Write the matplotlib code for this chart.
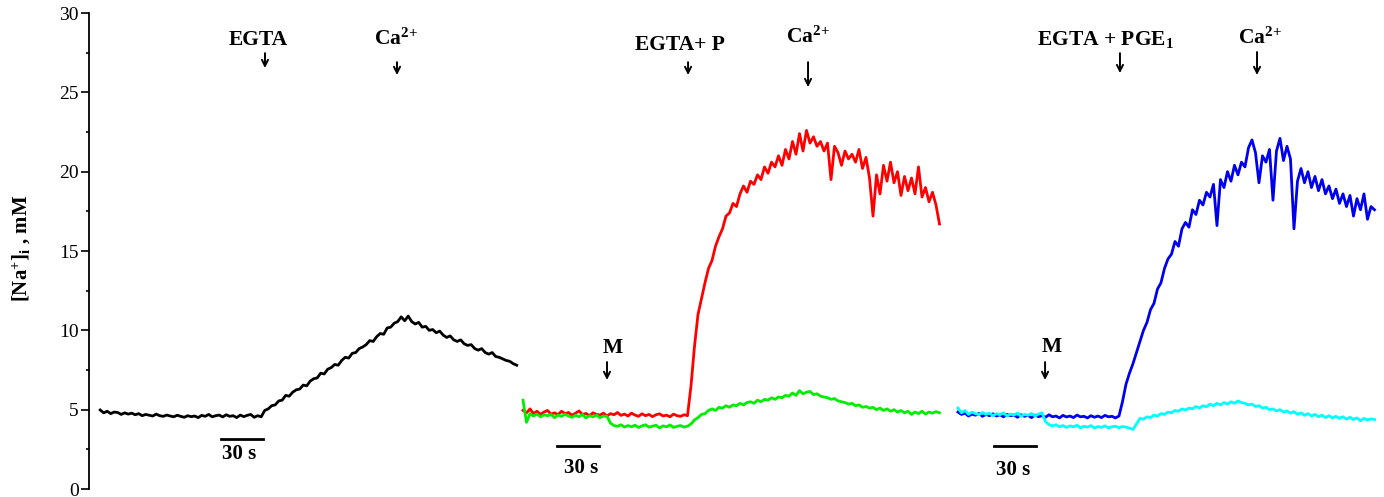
import numpy as np
import matplotlib
matplotlib.use("Agg")
import matplotlib.pyplot as plt

plt.rcParams['font.family'] = ['Liberation Serif', 'DejaVu Serif']
plt.rcParams['mathtext.fontset'] = 'custom'
plt.rcParams['mathtext.rm'] = 'Liberation Serif:bold'
plt.rcParams['mathtext.it'] = 'Liberation Serif:bold'
plt.rcParams['mathtext.bf'] = 'Liberation Serif:bold'

# sampling of the recordings (s)
DT = 2.5
T0_CONTROL = 8.0
T0_P = 310.0
T0_PGE = 620.7

# [Na+]i, mM -- control (EGTA, then Ca2+)
na_control = [
    4.98, 4.80, 4.90, 4.75, 4.85, 4.82, 4.70, 4.80, 4.72, 4.78,
    4.68, 4.75, 4.62, 4.70, 4.65, 4.60, 4.72, 4.62, 4.58, 4.66,
    4.60, 4.55, 4.65, 4.58, 4.52, 4.62, 4.56, 4.60, 4.50, 4.64,
    4.58, 4.70, 4.55, 4.62, 4.66, 4.54, 4.68, 4.58, 4.62, 4.50,
    4.66, 4.56, 4.64, 4.70, 4.52, 4.62, 4.55,
    4.95, 5.05, 5.25, 5.30, 5.55, 5.60, 5.90, 5.85, 6.10, 6.25,
    6.30, 6.55, 6.50, 6.80, 6.95, 7.00, 7.30, 7.25, 7.55, 7.65,
    7.85, 7.80, 8.10, 8.30, 8.25, 8.55, 8.60, 8.85, 8.95, 9.10,
    9.35, 9.30, 9.60, 9.80, 9.75, 10.15, 10.20, 10.45, 10.55, 10.85,
    10.60, 10.90, 10.55, 10.40, 10.50, 10.20, 10.25, 10.00, 10.05,
    9.85, 9.95, 9.70, 9.55, 9.65, 9.40, 9.30, 9.40, 9.15, 9.05,
    9.10, 8.85, 8.75, 8.85, 8.60, 8.50, 8.60, 8.35, 8.30, 8.20,
    8.10, 8.05, 7.90, 7.80,
]

# EGTA + P (red) and with M (green)
na_p = [
    4.95, 4.80, 5.05, 4.75, 4.90, 4.70, 4.85, 4.95, 4.72, 4.80,
    4.68, 4.90, 4.75, 4.82, 4.65, 4.78, 4.92, 4.70, 4.76, 4.62,
    4.80, 4.70, 4.66, 4.78, 4.60, 4.75, 4.68, 4.82, 4.64, 4.72,
    4.60, 4.78, 4.66, 4.58, 4.74, 4.62, 4.70, 4.56, 4.68, 4.74,
    4.60, 4.66, 4.55, 4.72, 4.62, 4.58, 4.68, 4.62,
    6.5, 9.0, 11.0, 12.0, 13.0, 13.9, 14.4, 15.3, 15.9, 16.4,
    17.2, 17.4, 18.0, 17.8, 18.6, 19.1, 18.7, 19.4, 19.2, 19.8,
    19.5, 20.3, 19.9, 20.6, 20.3, 21.0, 20.4, 21.4, 20.8, 21.9,
    21.1, 22.4, 21.3, 22.6, 21.8, 22.2, 21.6, 21.9, 21.3, 21.8,
    19.5, 21.6, 21.2, 20.4, 21.3, 20.8, 21.1, 20.6, 21.4, 20.2,
    20.9, 19.6, 17.2, 19.8, 18.6, 20.4, 19.4, 20.6, 19.3, 20.0,
    18.5, 19.7, 18.8, 19.6, 18.6, 20.3, 18.4, 19.0, 18.1, 18.7,
    17.9, 16.7,
]
na_p_m = [
    5.60, 4.20, 4.75, 4.60, 4.72, 4.55, 4.68, 4.62, 4.70, 4.50,
    4.66, 4.58, 4.72, 4.60, 4.52, 4.65, 4.56, 4.70, 4.48, 4.62,
    4.55, 4.66, 4.50, 4.60, 4.58,
    4.15, 4.00, 3.95, 4.05, 3.90, 4.00, 3.92, 4.02, 3.88, 3.98,
    4.05, 3.90, 3.96, 4.02, 3.85, 3.98, 3.92, 4.04, 3.88, 3.95,
    4.00, 3.90, 3.96,
    4.10, 4.35, 4.50, 4.70, 4.75, 4.95, 5.05, 4.95, 5.15, 5.10,
    5.25, 5.15, 5.30, 5.25, 5.40, 5.30, 5.45, 5.50, 5.40, 5.60,
    5.50, 5.65, 5.60, 5.75, 5.65, 5.80, 5.75, 5.90, 5.85, 6.05,
    5.90, 6.20, 6.00, 6.10, 6.15, 5.95, 6.00, 5.85, 5.80, 5.75,
    5.65, 5.70, 5.55, 5.50, 5.45, 5.35, 5.40, 5.25, 5.30, 5.15,
    5.20, 5.10, 5.15, 5.00, 5.10, 4.95, 5.05, 4.90, 5.00, 4.85,
    4.95, 4.80, 4.90, 4.70, 4.85, 4.75, 4.90, 4.72, 4.85, 4.78,
    4.88, 4.80,
]

# EGTA + PGE1 (blue) and with M (cyan)
na_pge = [
    4.85, 4.70, 4.78, 4.60, 4.72, 4.65, 4.76, 4.58, 4.70, 4.62,
    4.74, 4.60, 4.68, 4.55, 4.70, 4.62, 4.66, 4.52, 4.68, 4.58,
    4.64, 4.50, 4.66, 4.56, 4.62, 4.52, 4.68, 4.55, 4.60, 4.48,
    4.64, 4.54, 4.60, 4.50, 4.66, 4.55, 4.58, 4.48, 4.62, 4.52,
    4.60, 4.50, 4.64, 4.55, 4.58, 4.48, 4.60,
    5.5, 6.6, 7.3, 7.9, 8.6, 9.3, 10.0, 10.5, 11.3, 11.7,
    12.6, 13.0, 13.9, 14.5, 14.8, 15.6, 15.3, 16.4, 16.8, 16.5,
    17.6, 17.3, 18.2, 17.9, 18.7, 18.4, 19.2, 16.6, 19.5, 19.0,
    20.0, 19.4, 20.4, 19.8, 20.6, 20.3, 21.5, 22.0, 21.2, 19.3,
    21.0, 20.6, 21.4, 18.2, 21.3, 22.1, 20.7, 21.6, 20.8, 16.4,
    19.4, 20.2, 19.3, 20.0, 19.0, 19.7, 18.8, 19.5, 18.6, 19.1,
    18.3, 18.9, 18.0, 18.6, 17.8, 18.5, 17.2, 18.3, 17.6, 18.6,
    17.0, 17.8, 17.6,
]
na_pge_m = [
    5.10, 4.80, 4.95, 4.70, 4.85, 4.75, 4.68, 4.82, 4.70, 4.78,
    4.62, 4.75, 4.68, 4.80, 4.60, 4.72, 4.66, 4.78, 4.58, 4.70,
    4.64, 4.76, 4.60, 4.72, 4.80,
    4.25, 4.05, 3.98, 4.05, 3.92, 4.00, 3.88, 3.98, 3.92, 4.02,
    3.86, 3.95, 3.90, 4.00, 3.84, 3.94, 3.88, 3.98, 3.85, 3.92,
    3.96, 3.86, 3.94, 3.90, 3.84, 3.75,
    4.10, 4.45, 4.40, 4.55, 4.50, 4.65, 4.60, 4.75, 4.70, 4.85,
    4.80, 4.95, 4.90, 5.05, 4.98, 5.10, 5.05, 5.20, 5.10, 5.25,
    5.18, 5.35, 5.25, 5.40, 5.30, 5.45, 5.35, 5.50, 5.40, 5.55,
    5.45, 5.40, 5.30, 5.35, 5.20, 5.25, 5.10, 5.15, 5.00, 5.05,
    4.92, 5.00, 4.85, 4.92, 4.78, 4.88, 4.70, 4.80, 4.65, 4.75,
    4.60, 4.70, 4.55, 4.66, 4.50, 4.62, 4.48, 4.58, 4.45, 4.55,
    4.40, 4.52, 4.38, 4.48, 4.30, 4.45, 4.35, 4.42, 4.38,
]

CA = 'Ca$^{2}$$^{+}$'
# labels above the traces: (text, x, y, arrow x, arrow top, arrow bottom)
events = [
    ('EGTA', 120.7, 27.98, 125.7, 27.47, 26.53),
    (CA, 219.3, 27.98, 220.0, 26.90, 26.09),
    ('EGTA+ P', 422.1, 27.66, 427.9, 26.90, 26.09),
    (CA, 513.6, 28.10, 513.6, 26.90, 25.33),
    ('EGTA + PGE$_1$', 726.4, 27.98, 736.4, 27.47, 26.21),
    (CA, 836.4, 28.04, 834.3, 27.54, 26.09),
    ('M', 374.3, 8.57, 370.0, 8.00, 6.87),
    ('M', 687.9, 8.63, 682.9, 8.00, 6.87),
]
# 30 s scale bars: (start, y, text x, text y)
scale_bars = [
    (94.3, 3.15, 107.1, 1.89),
    (334.3, 2.71, 351.4, 1.01),
    (646.4, 2.71, 660.0, 0.88),
]


def times(t0, values):
    return t0 + DT * np.arange(len(values))


fig = plt.figure(figsize=(13.84, 4.97), dpi=100)
ax = fig.add_axes([89 / 1384, 8 / 497, 1 - 89 / 1384, 476 / 497])

lw = 2.0
ax.plot(times(T0_CONTROL, na_control), na_control, color='black', lw=lw)
ax.plot(times(T0_P, na_p), na_p, color='#ff0000', lw=lw)
ax.plot(times(T0_P, na_p_m), na_p_m, color='#00ee00', lw=lw)
ax.plot(times(T0_PGE, na_pge), na_pge, color='#0000ee', lw=lw)
ax.plot(times(T0_PGE, na_pge_m), na_pge_m, color='#00ffff', lw=lw)

for label, tx, ty, ax_x, a_top, a_bot in events:
    ax.text(tx, ty, label, ha='center', va='baseline', fontsize=15.5,
            fontweight='bold')
    ax.annotate('', xy=(ax_x, a_bot), xytext=(ax_x, a_top),
                arrowprops=dict(arrowstyle='->', lw=1.4, color='black',
                                shrinkA=0, shrinkB=0, mutation_scale=11))

for x0, y0, tx, ty in scale_bars:
    ax.plot([x0, x0 + 30], [y0, y0], color='black', lw=2)
    ax.text(tx, ty, '30 s', ha='center', va='baseline', fontsize=15,
            fontweight='bold')

ax.set_xlim(0, (1384 - 89) / 1.4)
ax.set_ylim(0, 30)
ax.set_yticks(np.arange(0, 31, 5))
ax.set_yticks(np.arange(0, 30, 2.5), minor=True)
ax.tick_params(axis='y', which='major', direction='out', length=5.5,
               width=1.2, pad=2, labelsize=14)
ax.tick_params(axis='y', which='minor', direction='out', length=2.5,
               width=1.2)
ax.set_xticks([])
for side in ['top', 'right', 'bottom']:
    ax.spines[side].set_visible(False)
ax.spines['left'].set_linewidth(1.3)

fig.text(22 / 1384, 0.5, '[Na$^{+}$]$_{i}$ , mM', rotation=90, ha='center',
         va='center', fontsize=15, fontweight='bold')

fig.savefig('out.png', dpi=100)
